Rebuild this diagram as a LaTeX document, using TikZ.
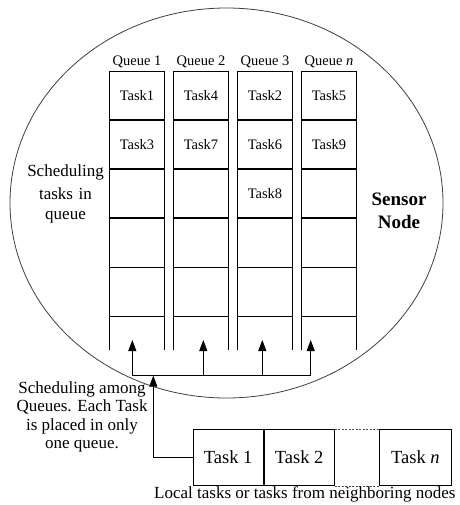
\documentclass[tikz,border=0pt]{standalone}
\usepackage{fontspec}
\setmainfont{Liberation Serif}
\usetikzlibrary{arrows.meta,calc}
\begin{document}
\begin{tikzpicture}[x=1pt,y=-1pt,
  line/.style={line width=0.8pt},
  cell/.style={draw, line width=0.7pt, minimum width=54.7pt, minimum height=48.45pt, inner sep=0pt, anchor=north west, font=\fontsize{14.5}{17}\selectfont},
  qlabel/.style={inner sep=0pt, font=\fontsize{14.5}{17}\selectfont},
  arr/.style={line width=0.8pt, -{Triangle[width=8pt,length=11pt]}},
  bbox/.style={draw, line width=0.8pt, minimum height=55.7pt, inner sep=0pt, anchor=north west, font=\fontsize{18.5}{22}\selectfont},
  note/.style={align=center, inner sep=0pt, font=\fontsize{17}{20}\selectfont}
]
\useasboundingbox (0,0) rectangle (459,505);
\fill[white] (0,0) rectangle (459,505);
% sensor node
\draw[line width=0.8pt, black!75] (226.5,203) ellipse [x radius=216.5pt, y radius=195pt];
% queues
\foreach \c/\x/\ta/\tb/\tc/\q in {1/109.3/Task1/Task3/{}/{Queue 1},2/173.3/Task4/Task7/{}/{Queue 2},3/237.3/Task2/Task6/Task8/{Queue 3},4/301.3/Task5/Task9/{}/{Queue \textit{n}}}{
  \node[cell] (q\c r1) at (\x,70.7) {\ta};
  \node[cell] (q\c r2) at (q\c r1.south west) {\tb};
  \node[cell] (q\c r3) at (q\c r2.south west) {\tc};
  \node[cell] (q\c r4) at (q\c r3.south west) {};
  \node[cell] (q\c r5) at (q\c r4.south west) {};
  \coordinate (q\c bl) at ($(q\c r5.south west)+(0,34)$);
  \coordinate (q\c br) at ($(q\c r5.south east)+(0,34)$);
  \draw[line] (q\c r5.south west) -- (q\c bl);
  \draw[line] (q\c r5.south east) -- (q\c br);
  \node[qlabel, anchor=base] (ql\c) at ($(q\c r1.north)+(0,-5)$) {\q};
}
% distribution arrows
\foreach \i/\x in {1/132.3,2/203.3,3/262.3,4/310.7}{
  \coordinate (h\i) at (\x,375);
  \coordinate (t\i) at (\x,340);
  \draw[arr] (h\i) -- (t\i);
}
\draw[line] (h1) -- (h4);
\coordinate (j) at (153.3,375.6);
% local task boxes
\node[bbox, minimum width=70pt] (b1) at (192.7,429.3) {Task 1};
\node[bbox, minimum width=70.6pt] (b2) at (b1.north east) {Task 2};
\node[bbox, minimum width=71.4pt] (bn) at (379.3,429.3) {Task \textit{n}};
\draw[line width=0.6pt, dashed, dash pattern=on 2pt off 1.5pt, black!70] (b2.north east) -- (bn.north west);
\draw[line width=0.6pt, dashed, dash pattern=on 2pt off 1.5pt, black!70] (b2.south east) -- (bn.south west);
\draw[arr] (b1.west) -| (j);
% texts
\node[note, text width=100pt] (t1) at (65.5,194) {\baselineskip=23pt Scheduling\\tasks in\\queue};
\node[align=center, inner sep=0pt, font=\fontsize{19}{22.5}\selectfont\bfseries] (sn) at (399,211) {Sensor\\Node};
\node[note, font=\fontsize{17}{18.5}\selectfont] (t2) at (82,417) {Scheduling among\\Queues. Each Task\\is placed in only\\one queue.};
\node[anchor=base west, inner sep=0pt, font=\fontsize{17}{20}\selectfont] (cap) at (154,498) {Local tasks or tasks from neighboring nodes};
\end{tikzpicture}
\end{document}
